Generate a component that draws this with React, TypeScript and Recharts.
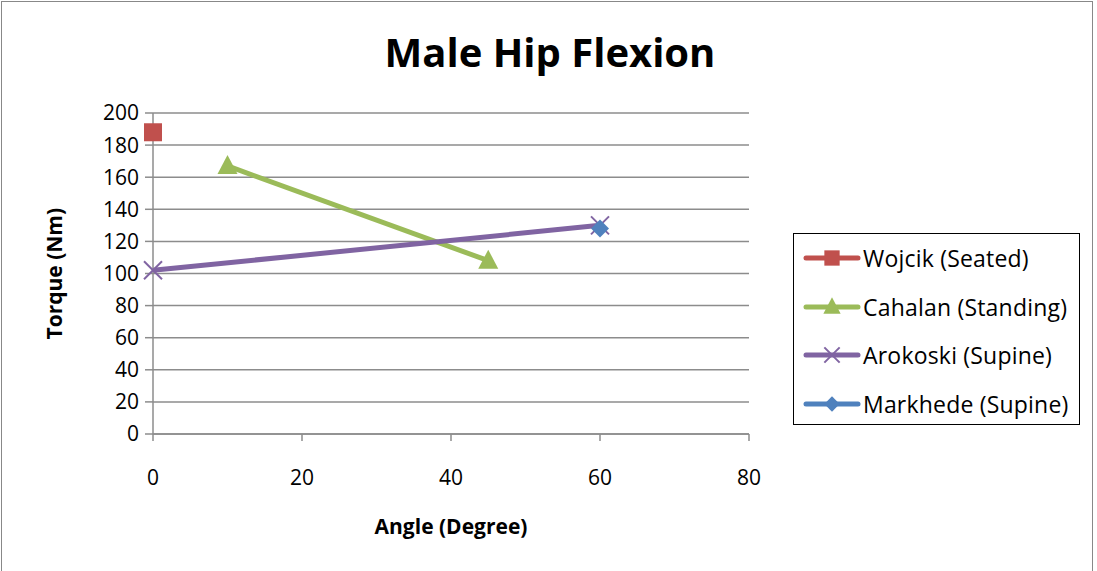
import { CartesianGrid, Line, LineChart, XAxis, YAxis } from "recharts";

const angleTicks = [0, 20, 40, 60, 80];
const torqueTicks = [0, 20, 40, 60, 80, 100, 120, 140, 160, 180, 200];

const wojcikAngle = [0];
const wojcikTorque = [188];
const cahalanAngle = [10, 45];
const cahalanTorque = [167, 108];
const arokoskiAngle = [0, 60];
const arokoskiTorque = [102, 130];
const markhedeAngle = [60];
const markhedeTorque = [128];

const font = "'Open Sans', sans-serif";
const gridColor = "#8c8c8c";

function pts(xs: number[], ys: number[]) {
  return xs.map((x, i) => ({ x, y: ys[i] }));
}

type Shape = "square" | "triangle" | "cross" | "diamond";

function Marker({ shape, color, cx, cy, size = 1 }: { shape: Shape; color: string; cx: number; cy: number; size?: number }) {
  const s = 9 * size;
  if (shape === "square")
    return <rect x={cx - s} y={cy - s} width={s * 2} height={s * 2} fill={color} />;
  if (shape === "triangle")
    return <polygon points={`${cx},${cy - s - 2} ${cx + s + 1},${cy + s - 1} ${cx - s - 1},${cy + s - 1}`} fill={color} />;
  if (shape === "diamond")
    return <polygon points={`${cx},${cy - s} ${cx + s},${cy} ${cx},${cy + s} ${cx - s},${cy}`} fill={color} />;
  return (
    <g stroke={color} strokeWidth={2}>
      <line x1={cx - s} y1={cy - s} x2={cx + s} y2={cy + s} />
      <line x1={cx - s} y1={cy + s} x2={cx + s} y2={cy - s} />
    </g>
  );
}

const series = [
  { name: "Wojcik (Seated)", color: "#c0504d", shape: "square" as Shape, data: pts(wojcikAngle, wojcikTorque) },
  { name: "Cahalan (Standing)", color: "#9bbb59", shape: "triangle" as Shape, data: pts(cahalanAngle, cahalanTorque) },
  { name: "Arokoski (Supine)", color: "#8064a2", shape: "cross" as Shape, data: pts(arokoskiAngle, arokoskiTorque) },
  { name: "Markhede (Supine)", color: "#4f81bd", shape: "diamond" as Shape, data: pts(markhedeAngle, markhedeTorque) },
];

export default function App() {
  return (
    <div style={{ position: "absolute", left: 0, top: 0, width: 1097, height: 571, background: "#fff", fontFamily: font }}>
      <div style={{ position: "absolute", left: 1, top: 1, width: 1092, height: 575, border: "1.5px solid #888", boxSizing: "border-box" }} />
      <div style={{ position: "absolute", left: 0, width: 1100, top: 24, textAlign: "center", fontSize: 40, fontWeight: 700 }}>
        Male Hip Flexion
      </div>
      <LineChart width={1097} height={571} margin={{ top: 113, right: 348, bottom: 97, left: 93 }} style={{ position: "absolute", left: 0, top: 0 }}>
        <CartesianGrid horizontal vertical={false} stroke={gridColor} strokeWidth={1.5} />
        <XAxis
          type="number"
          dataKey="x"
          domain={[0, 80]}
          ticks={angleTicks}
          allowDuplicatedCategory={false}
          stroke={gridColor}
          strokeWidth={1.5}
          tickSize={7}
          tick={{ fontSize: 21, fill: "#000", fontFamily: font, dy: 27 }}
          height={40}
          label={{ value: "Angle (Degree)", position: "insideBottom", offset: -60, fontSize: 21, fontWeight: 700, fill: "#000", fontFamily: font }}
        />
        <YAxis
          type="number"
          dataKey="y"
          domain={[0, 200]}
          ticks={torqueTicks}
          stroke={gridColor}
          strokeWidth={1.5}
          tickSize={8}
          width={60}
          tick={{ fontSize: 21, fill: "#000", fontFamily: font, dx: -4 }}
          label={{ value: "Torque (Nm)", angle: -90, position: "insideLeft", offset: -38, dy: 66, fontSize: 21, fontWeight: 700, fill: "#000", fontFamily: font }}
        />
        {series.map((s) => (
          <Line
            key={s.name}
            data={s.data}
            dataKey="y"
            name={s.name}
            stroke={s.color}
            strokeWidth={5}
            isAnimationActive={false}
            dot={(p: any) => <Marker key={`${s.name}-${p.index}`} shape={s.shape} color={s.color} cx={p.cx} cy={p.cy} />}
            activeDot={false}
          />
        ))}
      </LineChart>
      <div style={{ position: "absolute", left: 793, top: 233, width: 287, height: 192, border: "1.5px solid #000", boxSizing: "border-box" }}>
        {series.map((s, i) => (
          <div key={s.name} style={{ position: "absolute", left: 9, top: 8 + i * 48.5, height: 32, display: "flex", alignItems: "center" }}>
            <svg width={58} height={32}>
              <line x1={3} y1={16} x2={55} y2={16} stroke={s.color} strokeWidth={5} strokeLinecap="round" />
              <Marker shape={s.shape} color={s.color} cx={29} cy={16} size={0.85} />
            </svg>
            <span style={{ fontSize: 23, marginLeft: 2, whiteSpace: "nowrap", letterSpacing: 0.2 }}>{s.name}</span>
          </div>
        ))}
      </div>
    </div>
  );
}
